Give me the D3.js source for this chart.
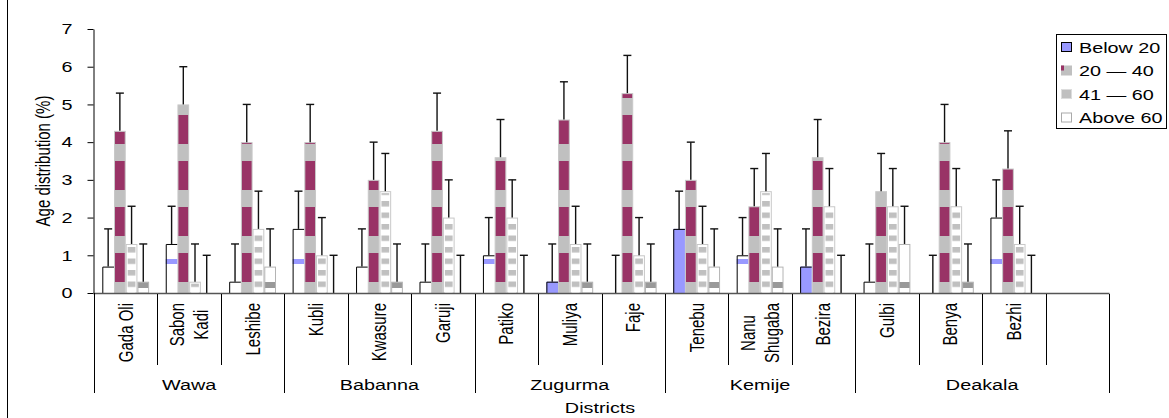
<!DOCTYPE html>
<html lang="en">
<head>
  <meta charset="utf-8" />
  <script src="https://d3js.org/d3.v7.min.js"></script>
  <style>
    body {
      margin: 0;
      background: #fff;
    }
    svg {
      display: block;
      font-family: "Liberation Sans", Arial, sans-serif;
    }
  </style>
</head>
<body>
  <script>
    // districts, one slot per bar group (the last one is empty in the original)
    var districts = ["Gada Oli", "Sabon Kadi", "Leshibe", "Kubli", "Kwasure", "Garuji", "Patiko", "Muliya",
      "Faje", "Tenebu", "Nanu Shugaba", "Bezira", "Gulbi", "Benya", "Bezhi", ""];
    var districtLabels = [["Gada Oli"], ["Sabon", "Kadi"], ["Leshibe"], ["Kubli"], ["Kwasure"], ["Garuji"],
      ["Patiko"], ["Muliya"], ["Faje"], ["Tenebu"], ["Nanu", "Shugaba"], ["Bezira"], ["Gulbi"], ["Benya"],
      ["Bezhi"], [""]];
    var zones = ["Wawa", "Babanna", "Zugurma", "Kemije", "Deakala"];
    var zoneSizes = [3, 3, 3, 3, 4];

    var series = ["Below 20", "20 \u2014 40", "41 \u2014 60", "Above 60"];

    var below20 = [0.7, 1.3, 0.3, 1.7, 0.7, 0.3, 1.0, 0.3, 0, 1.7, 1.0, 0.7, 0.3, 0, 2.0];
    var age20to40 = [4.3, 5.0, 4.0, 4.0, 3.0, 4.3, 3.6, 4.6, 5.3, 3.0, 2.3, 3.6, 2.7, 4.0, 3.3];
    var age41to60 = [1.3, 0.3, 1.7, 1.0, 2.7, 2.0, 2.0, 1.3, 1.0, 1.3, 2.7, 2.3, 2.3, 2.3, 1.3];
    var above60 = [0.3, 0, 0.7, 0, 0.3, 0, 0, 0.3, 0.3, 0.7, 0.7, 0, 1.3, 0.3, 0];

    var errBelow20 = [1.0, 1.0, 1.0, 1.0, 1.0, 1.0, 1.0, 1.0, 1.0, 1.0, 1.0, 1.0, 1.0, 1.0, 1.0];
    var err20to40 = [1.0, 1.0, 1.0, 1.0, 1.0, 1.0, 1.0, 1.0, 1.0, 1.0, 1.0, 1.0, 1.0, 1.0, 1.0];
    var err41to60 = [1.0, 1.0, 1.0, 1.0, 1.0, 1.0, 1.0, 1.0, 1.0, 1.0, 1.0, 1.0, 1.0, 1.0, 1.0];
    var errAbove60 = [1.0, 1.0, 1.0, 1.0, 1.0, 1.0, 1.0, 1.0, 1.0, 1.0, 1.0, 1.0, 1.0, 1.0, 1.0];

    var yTicks = [0, 1, 2, 3, 4, 5, 6, 7];

    var values = [below20, age20to40, age41to60, above60];
    var errors = [errBelow20, err20to40, err41to60, errAbove60];

    var width = 1169,
      height = 418;
    var stretch = 1.32; // text in the source is drawn wide
    var fontSize = 15;
    var maroon = "#993366", grey = "#c0c0c0", blue = "#9999ff";
    var solidBelow = ["Muliya", "Tenebu", "Bezira"];

    var svg = d3.select("body")
      .append("svg")
      .attr("width", width)
      .attr("height", height);

    var x0 = d3.scaleBand()
      .domain(districts)
      .range([94, 1109]);

    var x1 = d3.scaleBand()
      .domain(series)
      .range([0, x0.bandwidth()])
      .paddingOuter(0.71);

    var y = d3.scaleLinear()
      .domain([0, 7])
      .range([293, 29]);

    // patterns
    var defs = svg.append("defs");

    var pMid = defs.append("pattern")
      .attr("id", "pMid")
      .attr("patternUnits", "userSpaceOnUse")
      .attr("x", 0).attr("y", 282)
      .attr("width", 10).attr("height", 46);
    pMid.append("rect").attr("width", 10).attr("height", 46).attr("fill", maroon);
    pMid.append("rect").attr("width", 10).attr("height", 17).attr("fill", grey);

    var pStripe = defs.append("pattern")
      .attr("id", "pStripe")
      .attr("patternUnits", "userSpaceOnUse")
      .attr("x", 0).attr("y", 247)
      .attr("width", 10).attr("height", 11.5);
    pStripe.append("rect").attr("width", 10).attr("height", 11.5).attr("fill", "#fff");
    pStripe.append("rect").attr("width", 10).attr("height", 5.5).attr("fill", grey);

    var pLow = defs.append("pattern")
      .attr("id", "pLow")
      .attr("patternUnits", "userSpaceOnUse")
      .attr("width", 10).attr("height", height);
    pLow.append("rect").attr("width", 10).attr("height", height).attr("fill", "#fff");
    pLow.append("rect").attr("y", 259).attr("width", 10).attr("height", 5).attr("fill", blue);

    var pOld = defs.append("pattern")
      .attr("id", "pOld")
      .attr("patternUnits", "userSpaceOnUse")
      .attr("width", 10).attr("height", height);
    pOld.append("rect").attr("width", 10).attr("height", height).attr("fill", "#fff");
    pOld.append("rect").attr("y", 282).attr("width", 10).attr("height", 6).attr("fill", "#999");

    // frame line on the left
    svg.append("line")
      .attr("x1", 7.5).attr("x2", 7.5)
      .attr("y1", 0).attr("y2", height)
      .attr("stroke", "#000");

    // bars
    var cells = [];
    districts.forEach(function (name, i) {
      series.forEach(function (s, k) {
        if (values[k][i] === undefined) return;
        cells.push({ district: name, series: s, k: k, value: values[k][i], err: errors[k][i] });
      });
    });

    var barW = x1.bandwidth();
    var barsElt = svg.append("g");

    cells.forEach(function (d) {
      if (d.value <= 0) return;
      var bx = x0(d.district) + x1(d.series);
      var by = y(d.value);
      var bh = y(0) - by;
      if (d.k === 0) {
        barsElt.append("rect")
          .attr("x", bx).attr("y", by)
          .attr("width", barW).attr("height", bh)
          .attr("fill", solidBelow.indexOf(d.district) >= 0 ? blue : "url(#pLow)");
        barsElt.append("path")
          .attr("d", "M" + (bx + 0.5) + "," + y(0) + "V" + (by + 0.5) + "H" + (bx + barW))
          .attr("fill", "none")
          .attr("stroke", "#000");
      } else if (d.k === 1) {
        barsElt.append("rect")
          .attr("x", bx + 0.5).attr("y", by + 0.5)
          .attr("width", barW - 1).attr("height", bh - 0.5)
          .attr("fill", "url(#pMid)")
          .attr("stroke", "#c8c8c8");
      } else if (d.k === 2) {
        barsElt.append("rect")
          .attr("x", bx + 0.5).attr("y", by + 0.5)
          .attr("width", barW - 1).attr("height", bh - 0.5)
          .attr("fill", "#fff")
          .attr("stroke", "#c8c8c8");
        barsElt.append("rect")
          .attr("x", bx + 2).attr("y", by + 2)
          .attr("width", barW - 4).attr("height", Math.max(0, bh - 2))
          .attr("fill", "url(#pStripe)");
      } else {
        barsElt.append("rect")
          .attr("x", bx + 0.5).attr("y", by + 0.5)
          .attr("width", barW - 1).attr("height", bh - 0.5)
          .attr("fill", "url(#pOld)")
          .attr("stroke", "#b4b4b4");
      }
    });

    // error bars
    var errElt = svg.append("g")
      .attr("stroke", "#111")
      .attr("stroke-width", 1.4);

    cells.forEach(function (d) {
      var cx = x0(d.district) + x1(d.series) + barW / 2;
      var top = y(d.value + d.err);
      errElt.append("line")
        .attr("x1", cx).attr("x2", cx)
        .attr("y1", y(d.value)).attr("y2", top);
      errElt.append("line")
        .attr("x1", cx - 4).attr("x2", cx + 4)
        .attr("y1", top).attr("y2", top);
    });

    // y axis
    var yAxis = svg.append("g")
      .attr("transform", "translate(93.5,0)")
      .call(d3.axisLeft(y).tickValues(yTicks).tickFormat(d3.format("d")).tickSize(6).tickSizeOuter(0));
    yAxis.select(".domain").attr("stroke", "#000");
    yAxis.selectAll(".tick line").attr("stroke", "#000");
    yAxis.selectAll("text")
      .attr("x", null)
      .attr("transform", "translate(-21,0) scale(" + stretch + ",1)")
      .attr("font-size", 15)
      .attr("font-family", "Liberation Sans, Arial, sans-serif")
      .attr("fill", "#000");

    // x axis: baseline and category / zone separators
    svg.append("line")
      .attr("x1", 93).attr("x2", x0.range()[1] + 0.5)
      .attr("y1", y(0) + 0.5).attr("y2", y(0) + 0.5)
      .attr("stroke", "#555")
      .attr("stroke-width", 1.3);

    var zoneEdges = [0];
    zoneSizes.forEach(function (n, i) { zoneEdges.push(zoneEdges[i] + n); });

    d3.range(districts.length + 1).forEach(function (i) {
      var xx = Math.round(x0.range()[0] + i * x0.step()) + 0.5;
      var isZone = zoneEdges.indexOf(i) >= 0;
      svg.append("line")
        .attr("x1", xx).attr("x2", xx)
        .attr("y1", i === 0 ? y(0) : y(0) + 1).attr("y2", isZone ? 393 : 365)
        .attr("stroke", "#000");
    });

    // district labels, rotated
    districts.forEach(function (name, i) {
      var lines = districtLabels[i];
      var cx = x0(name) + x0.bandwidth() / 2;
      var g = svg.append("g")
        .attr("transform", "translate(" + cx + ",303) scale(" + stretch + ",1) rotate(-90)");
      var texts = lines.map(function (ln, j) {
        return g.append("text")
          .attr("font-size", fontSize)
          .attr("text-anchor", "middle")
          .attr("y", (0.35 + (j - (lines.length - 1) / 2) * 1.23) + "em")
          .text(ln);
      });
      var maxLen = d3.max(texts, function (t) { return t.node().getComputedTextLength(); });
      texts.forEach(function (t) { t.attr("x", -maxLen / 2); });
    });

    // zone labels
    zones.forEach(function (z, i) {
      var a = x0.range()[0] + zoneEdges[i] * x0.step();
      var b = x0.range()[0] + zoneEdges[i + 1] * x0.step();
      svg.append("g")
        .attr("transform", "translate(" + ((a + b) / 2) + ",390) scale(" + stretch + ",1)")
        .append("text")
        .attr("font-size", fontSize)
        .attr("text-anchor", "middle")
        .text(z);
    });

    // axis titles
    svg.append("g")
      .attr("transform", "translate(600,413) scale(" + stretch + ",1)")
      .append("text")
      .attr("font-size", fontSize)
      .attr("text-anchor", "middle")
      .text("Districts");

    svg.append("g")
      .attr("transform", "translate(50,161) scale(" + stretch + ",1) rotate(-90)")
      .append("text")
      .attr("font-size", fontSize)
      .attr("text-anchor", "middle")
      .text("Age distribution (%)");

    // legend
    var legend = svg.append("g").attr("transform", "translate(1056,34)");
    legend.append("rect")
      .attr("x", 0.5).attr("y", 0.5)
      .attr("width", 110).attr("height", 94)
      .attr("fill", "#fff")
      .attr("stroke", "#000");

    series.forEach(function (s, k) {
      var ly = 13 + k * 23.5;
      var sw = legend.append("g").attr("transform", "translate(5," + (ly - 5) + ")");
      if (k === 0) {
        sw.append("rect").attr("x", 0.5).attr("y", 0.5).attr("width", 10).attr("height", 9)
          .attr("fill", blue).attr("stroke", "#000");
      } else if (k === 1) {
        sw.append("rect").attr("width", 11).attr("height", 10).attr("fill", grey);
        sw.append("rect").attr("width", 3).attr("height", 5).attr("fill", maroon);
      } else if (k === 2) {
        sw.append("rect").attr("x", 0.5).attr("y", 0.5).attr("width", 10).attr("height", 9)
          .attr("fill", grey).attr("stroke", "#ddd");
      } else {
        sw.append("rect").attr("x", 0.5).attr("y", 0.5).attr("width", 10).attr("height", 9)
          .attr("fill", "#fff").attr("stroke", "#aaa");
      }
      legend.append("g")
        .attr("transform", "translate(23," + (ly + 5.5) + ") scale(" + stretch + ",1)")
        .append("text")
        .attr("font-size", fontSize)
        .text(s);
    });
  </script>
</body>
</html>
